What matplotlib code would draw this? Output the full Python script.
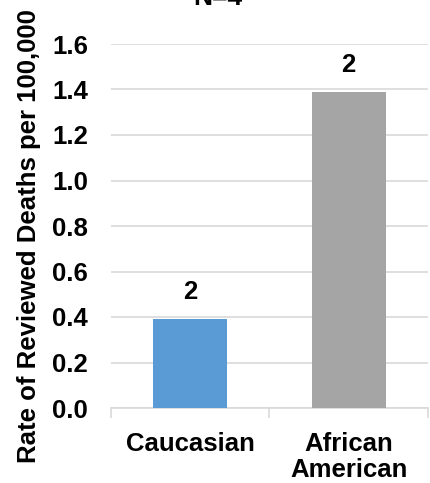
import matplotlib.pyplot as plt
import numpy as np

categories = ["Caucasian", "African\nAmerican"]
rates = [0.39, 1.39]
counts = ["2", "2"]
colors = ["#5B9BD5", "#A5A5A5"]

plt.rcParams['font.family'] = ['Liberation Sans', 'DejaVu Sans']
plt.rcParams['font.weight'] = 'bold'

FS = 18.5

fig = plt.figure(figsize=(4.31, 4.83), dpi=100)
ax = fig.add_axes([111 / 431, (483 - 408) / 483, (428 - 111) / 431, (408 - 44) / 483])

x = np.arange(len(categories))
bars = ax.bar(x, rates, width=0.47, color=colors, zorder=3)
for b, c in zip(bars, counts):
    ax.text(b.get_x() + b.get_width() / 2, b.get_height() + 0.088, c,
            ha="center", va="baseline", fontsize=FS, fontweight="bold")

ax.set_xlim(-0.5, 1.5)
ax.set_ylim(0, 1.6)
yt = np.arange(0, 1.61, 0.2)
ax.set_yticks(yt)
ax.set_yticklabels([f"{v:.1f}" for v in yt], fontsize=FS, fontweight="bold")
ax.yaxis.grid(True, color="#D9D9D9", linewidth=1.2, zorder=0)
ax.tick_params(axis="y", length=0, pad=16.5)

ax.set_xticks(x)
ax.set_xticklabels(categories, fontsize=FS, fontweight="bold", linespacing=1.12)
ax.set_xticks([-0.5, 0.5, 1.5], minor=True)
ax.tick_params(axis="x", which="major", length=0, pad=17)
ax.tick_params(axis="x", which="minor", length=7, color="#D9D9D9", width=1.2)

for s in ["top", "right", "left"]:
    ax.spines[s].set_visible(False)
ax.spines["bottom"].set_color("#D9D9D9")
ax.spines["bottom"].set_linewidth(1.2)

ax.set_ylabel("Rate of Reviewed Deaths per 100,000", fontsize=18.5, fontweight="bold")
ax.yaxis.set_label_coords(-(111 - 41) / 317, 0.5 - (236.5 - 226) / 364)
fig.text(218 / 431, 1.0 - 5 / 483, "N=4", ha="center", va="baseline", fontsize=19, fontweight="bold")

fig.savefig("out.png", dpi=100)
